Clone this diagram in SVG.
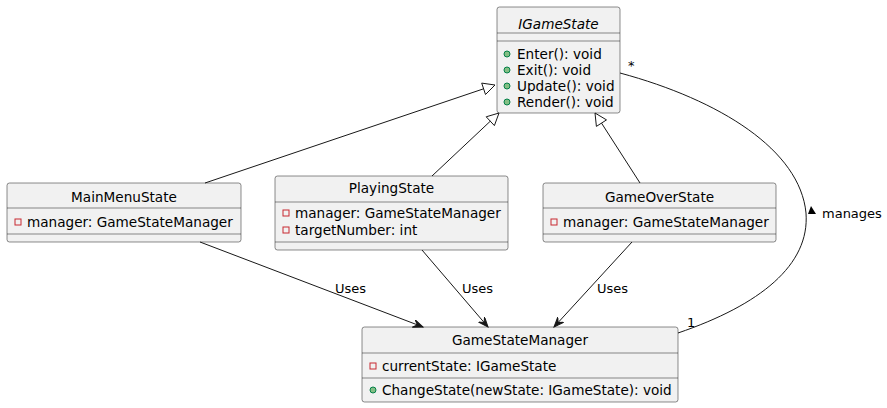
<svg xmlns="http://www.w3.org/2000/svg" width="887" height="408" viewBox="0 0 887 408">
<style>
.box{fill:#F1F1F1;stroke:#181818;stroke-width:0.5}
.sep{stroke:#181818;stroke-width:0.5}
.t{font-family:"DejaVu Sans",sans-serif;font-size:13.6px;fill:#000}
.l{font-family:"DejaVu Sans",sans-serif;font-size:13px;fill:#000}
.priv{fill:none;stroke:#C82930;stroke-width:1}
.pub{fill:#84BE84;stroke:#038048;stroke-width:1}
.edge{fill:none;stroke:#181818;stroke-width:1}
.gen{fill:none;stroke:#181818;stroke-width:1}
</style>
<defs>
<marker id="arr" markerUnits="userSpaceOnUse" markerWidth="12" markerHeight="10" refX="10" refY="4" orient="auto">
<path d="M0,0 L10,4 L0,8 L4,4 Z" fill="#181818" stroke="#181818" stroke-width="1"/>
</marker>
</defs>
<g id="IGameState">
<rect class="box" x="497" y="7" width="123" height="106" rx="2.5"/>
<text class="t" x="558.5" y="29" text-anchor="middle" font-style="italic">IGameState</text>
<line class="sep" x1="497" y1="33" x2="620" y2="33"/>
<line class="sep" x1="497" y1="41" x2="620" y2="41"/>
<circle class="pub" cx="507" cy="54" r="3"/>
<text class="t" x="517" y="59">Enter(): void</text>
<circle class="pub" cx="507" cy="70" r="3"/>
<text class="t" x="517" y="75">Exit(): void</text>
<circle class="pub" cx="507" cy="86" r="3"/>
<text class="t" x="517" y="91">Update(): void</text>
<circle class="pub" cx="507" cy="102" r="3"/>
<text class="t" x="517" y="107">Render(): void</text>
</g>
<g id="MainMenuState">
<rect class="box" x="7" y="183" width="234" height="59" rx="2.5"/>
<text class="t" x="124" y="202" text-anchor="middle">MainMenuState</text>
<line class="sep" x1="7" y1="208" x2="241" y2="208"/>
<rect class="priv" x="15" y="219" width="6" height="6"/>
<text class="t" x="27" y="227">manager: GameStateManager</text>
<line class="sep" x1="7" y1="234" x2="241" y2="234"/>
</g>
<g id="PlayingState">
<rect class="box" x="275" y="176" width="233" height="74" rx="2.5"/>
<text class="t" x="391.5" y="193" text-anchor="middle">PlayingState</text>
<line class="sep" x1="275" y1="202" x2="508" y2="202"/>
<rect class="priv" x="283" y="210" width="6" height="6"/>
<text class="t" x="295" y="218">manager: GameStateManager</text>
<rect class="priv" x="283" y="227" width="6" height="6"/>
<text class="t" x="295" y="235">targetNumber: int</text>
<line class="sep" x1="275" y1="242" x2="508" y2="242"/>
</g>
<g id="GameOverState">
<rect class="box" x="543" y="183" width="233" height="59" rx="2.5"/>
<text class="t" x="659.5" y="202" text-anchor="middle">GameOverState</text>
<line class="sep" x1="543" y1="208" x2="776" y2="208"/>
<rect class="priv" x="551" y="219" width="6" height="6"/>
<text class="t" x="563" y="227">manager: GameStateManager</text>
<line class="sep" x1="543" y1="234" x2="776" y2="234"/>
</g>
<g id="GameStateManager">
<rect class="box" x="362" y="327" width="316" height="75" rx="2.5"/>
<text class="t" x="520" y="345" text-anchor="middle">GameStateManager</text>
<line class="sep" x1="362" y1="353" x2="678" y2="353"/>
<rect class="priv" x="370" y="363" width="6" height="6"/>
<text class="t" x="382" y="371">currentState: IGameState</text>
<line class="sep" x1="362" y1="378" x2="678" y2="378"/>
<circle class="pub" cx="373" cy="390" r="3"/>
<text class="t" x="382" y="395">ChangeState(newState: IGameState): void</text>
</g>
<g id="connectors">
<line class="edge" x1="205" y1="183" x2="483.6" y2="88.8"/>
<polygon class="gen" points="495,85 485.5,94.5 481.7,83.1"/>
<line class="edge" x1="432" y1="176" x2="490.3" y2="121.2"/>
<polygon class="gen" points="499,113 494.4,125.6 486.2,116.8"/>
<line class="edge" x1="640" y1="183" x2="601.5" y2="123.1"/>
<polygon class="gen" points="595,113 606.5,119.9 596.4,126.4"/>
<line class="edge" x1="200" y1="242" x2="423" y2="327" marker-end="url(#arr)"/>
<text class="l" x="335" y="293">Uses</text>
<line class="edge" x1="422" y1="250" x2="488" y2="327" marker-end="url(#arr)"/>
<text class="l" x="462" y="293">Uses</text>
<line class="edge" x1="632" y1="242" x2="554" y2="327" marker-end="url(#arr)"/>
<text class="l" x="597" y="293">Uses</text>
<path class="edge" d="M620,73 C720,100 800,150 806,213 C810,265 760,305 678,333"/>
<text class="l" x="628" y="70">*</text>
<text class="l" x="687" y="327">1</text>
<polygon points="811,206 816,214 808,214" fill="#000"/>
<text class="l" x="822" y="218">manages</text>
</g>
</svg>
